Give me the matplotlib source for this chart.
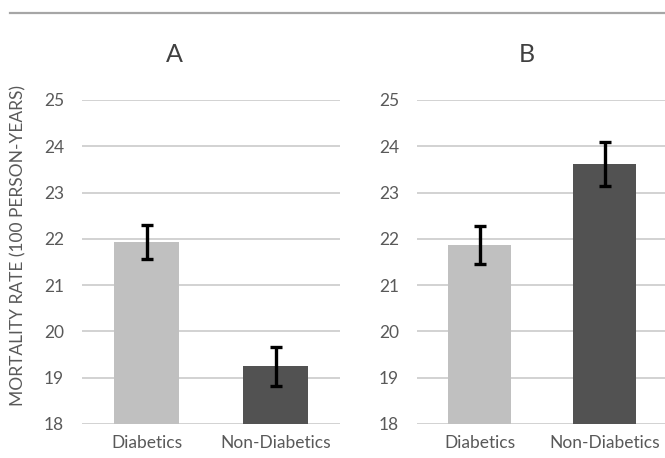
import matplotlib
matplotlib.use("Agg")
import matplotlib.pyplot as plt
from matplotlib.lines import Line2D

categories = ["Diabetics", "Non-Diabetics"]
panel_titles = ["A", "B"]
values_a = [21.93, 19.25]
errors_a = [0.37, 0.42]
values_b = [21.86, 23.62]
errors_b = [0.41, 0.47]
yticks = [18, 19, 20, 21, 22, 23, 24, 25]
ylabel = "MORTALITY RATE (100 PERSON-YEARS)"

plt.rcParams['font.family'] = ['Lato', 'DejaVu Sans']
text_color = "#595959"
bar_colors = ["#c0c0c0", "#525252"]
grid_color = "#cbcbcb"

W, H = 665, 458
fig = plt.figure(figsize=(W / 100, H / 100), dpi=100)

def fx(px):
    return px / W

def fy(py):
    return 1 - py / H

panels = [
    (82, 340, values_a, errors_a),
    (417, 667, values_b, errors_b),
]
top_px, bot_px = 100, 424
axes = []
for left, right, vals, errs in panels:
    ax = fig.add_axes([fx(left), fy(bot_px), (right - left) / W, (bot_px - top_px) / H])
    x = list(range(len(categories)))
    ax.bar(x, vals, width=0.5, color=bar_colors, zorder=2)
    ax.errorbar(x, vals, yerr=errs, fmt="none", ecolor="black", elinewidth=2.4,
                capsize=4.5, capthick=2.4, zorder=3)
    ax.set_xlim(-0.5, 1.5)
    ax.set_ylim(18, 25)
    ax.set_yticks(yticks)
    ax.set_xticks(x)
    ax.set_xticklabels(categories)
    for spine in ax.spines.values():
        spine.set_visible(False)
    ax.yaxis.grid(True, color=grid_color, linewidth=1.2, zorder=0)
    ax.set_axisbelow(True)
    ax.tick_params(axis="both", length=0, labelsize=12.5, colors=text_color)
    ax.tick_params(axis="y", pad=13)
    ax.tick_params(axis="x", pad=8)
    axes.append(ax)

fig.text(fx(18), fy(245), ylabel, fontsize=12.5, color=text_color, rotation=90,
         ha="center", va="center")

fig.text(fx(174), fy(54), panel_titles[0], fontsize=18, color="#404040", ha="center", va="center")
fig.text(fx(527), fy(54), panel_titles[1], fontsize=18, color="#404040", ha="center", va="center")

fig.add_artist(Line2D([fx(10), fx(665)], [fy(13), fy(13)], color="#a6a6a6", linewidth=1.6,
                      transform=fig.transFigure))

fig.savefig("out.png", dpi=100)
